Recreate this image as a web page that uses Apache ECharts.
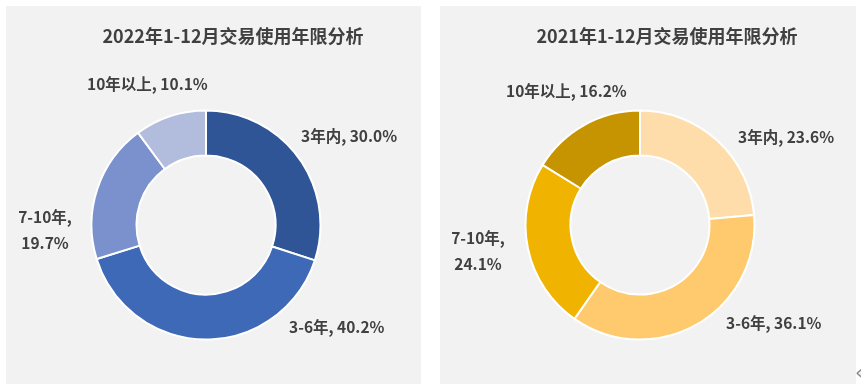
<!DOCTYPE html>
<html>
<head>
<meta charset="utf-8">
<script src="https://cdn.jsdelivr.net/npm/echarts@6/dist/echarts.min.js"></script>
<style>html,body{margin:0;padding:0;background:#fff}#c{width:861px;height:388px}</style>
</head>
<body>
<div id="c"></div>
<script>
const categories = ['3年内', '3-6年', '7-10年', '10年以上'];
const values2022 = [30.0, 40.2, 19.7, 10.1];
const values2021 = [23.6, 36.1, 24.1, 16.2];
const titles = ['2022年1-12月交易使用年限分析', '2021年1-12月交易使用年限分析'];

const colors2022 = ['#2F5597', '#3E69B7', '#7A91CE', '#B2BDDE'];
const colors2021 = ['#FFDDAA', '#FFC96E', '#F0B400', '#C69400'];

const labelPos2022 = [
  {x: 301, y: 136, align: 'left'},
  {x: 289, y: 327, align: 'left'},
  {x: 45, y: 230, align: 'center'},
  {x: 87, y: 84, align: 'left'}
];
const labelPos2021 = [
  {x: 738, y: 137, align: 'left'},
  {x: 726, y: 323, align: 'left'},
  {x: 478, y: 251, align: 'center'},
  {x: 506, y: 91, align: 'left'}
];

const FONT = '"Noto Sans CJK SC", "Noto Sans", sans-serif';
const TXT = '#404040';

function mkData(vals, cols) {
  return categories.map((n, i) => ({name: n, value: vals[i], itemStyle: {color: cols[i]}}));
}
function fmt(p) {
  const sep = p.dataIndex === 2 ? ',\n' : ', ';
  return p.name + sep + Number(p.value).toFixed(1) + '%';
}
function mkSeries(vals, cols, center, pos) {
  return {
    type: 'pie',
    center: center,
    radius: [69.5, 114.5],
    startAngle: 90,
    clockwise: true,
    avoidLabelOverlap: false,
    silent: true,
    itemStyle: {borderColor: '#ffffff', borderWidth: 2},
    label: {
      show: true, position: 'outside', formatter: fmt,
      fontFamily: FONT, fontSize: 15.5, fontWeight: 'bold', color: TXT, lineHeight: 26
    },
    labelLine: {show: false},
    labelLayout: function (p) {
      const q = pos[p.dataIndex];
      return {x: q.x, y: q.y, align: q.align, verticalAlign: 'middle'};
    },
    data: mkData(vals, cols)
  };
}

const chart = echarts.init(document.getElementById('c'), null, {renderer: 'canvas'});
chart.setOption({
  backgroundColor: '#ffffff',
  animation: false,
  graphic: [
    {type: 'rect', shape: {x: 6, y: 6, width: 415, height: 378}, style: {fill: '#F2F2F2'}, z: -10},
    {type: 'rect', shape: {x: 440, y: 6, width: 416, height: 378}, style: {fill: '#F2F2F2'}, z: -10},
    {type: 'text', x: 855, y: 364, style: {text: '«', fill: '#8a8a8a', font: '20px "DejaVu Sans", sans-serif'}, z: -5}
  ],
  title: [
    {text: titles[0], left: 228, top: 31, textAlign: 'center', textVerticalAlign: 'middle',
     textStyle: {fontFamily: FONT, fontSize: 18, fontWeight: 'bold', color: TXT}},
    {text: titles[1], left: 662, top: 31, textAlign: 'center', textVerticalAlign: 'middle',
     textStyle: {fontFamily: FONT, fontSize: 18, fontWeight: 'bold', color: TXT}}
  ],
  series: [
    mkSeries(values2022, colors2022, [206, 225], labelPos2022),
    mkSeries(values2021, colors2021, [640, 225], labelPos2021)
  ]
});
</script>
</body>
</html>
